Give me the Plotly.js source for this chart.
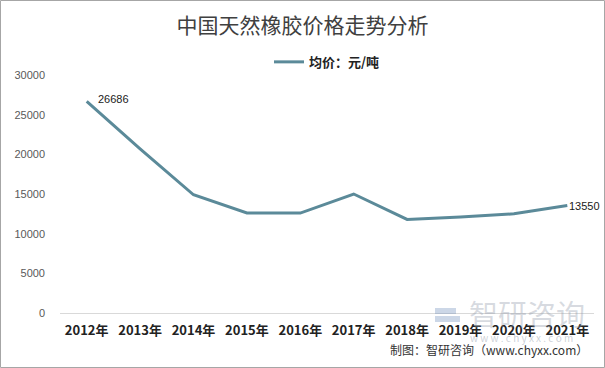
<!DOCTYPE html>
<html>
<head>
<meta charset="utf-8">
<script src="https://cdn.plot.ly/plotly-3.0.1.min.js"></script>
<style>
html,body{margin:0;padding:0;background:#fff;}
#chart{width:605px;height:368px;}
</style>
</head>
<body>
<div id="chart"></div>
<script>
var years = ["2012年","2013年","2014年","2015年","2016年","2017年","2018年","2019年","2020年","2021年"];
var prices = [26686, 20700, 14900, 12600, 12600, 15000, 11800, 12100, 12500, 13550];
var yTicks = [0, 5000, 10000, 15000, 20000, 25000, 30000];
var seriesName = "均价：元/吨";
var titleText = "中国天然橡胶价格走势分析";
var labelIdx = [0, 9];

var cjk = '"Noto Sans CJK SC", "Noto Sans", sans-serif';
var lineColor = "#5b8a99";

var annotations = labelIdx.map(function(i){
  return {x: years[i], y: prices[i], xref: "x", yref: "y", text: String(prices[i]),
    showarrow: false, xanchor: "left", yanchor: "middle", xshift: i === 0 ? 9 : 0, yshift: i === 0 ? 2 : 0,
    font: {family: "Liberation Sans, Arial, sans-serif", size: 11, color: "#1a1a1a"}};
});
annotations.push({xref: "paper", yref: "paper", x: 0.8745, y: 0.0, xanchor: "center", yanchor: "middle",
  text: "智研咨询", showarrow: false, font: {family: cjk, size: 29, color: "rgba(140,150,165,0.35)"}});
annotations.push({xref: "paper", yref: "paper", x: 0.865, y: -0.105, xanchor: "center", yanchor: "middle",
  text: "w w w . c h y x x . c o m", showarrow: false, font: {family: cjk, size: 10, color: "rgba(140,150,165,0.45)"}});
annotations.push({xref: "paper", yref: "paper", x: 0.9925, y: -0.155, xanchor: "right", yanchor: "middle",
  text: "制图：智研咨询（www.chyxx.com）", showarrow: false, font: {family: cjk, size: 12, color: "#333"}});

function px(x){ return (x - 60) / 534; }
function py(y){ return (313 - y) / 238; }

var shapes = [
  {type: "rect", xref: "paper", yref: "paper", x0: px(0.5), x1: px(604.5), y0: py(367.5), y1: py(0.5),
   line: {color: "#a6a6a6", width: 1}, fillcolor: "rgba(0,0,0,0)", layer: "below"},
  {type: "rect", xref: "paper", yref: "paper", x0: px(435), x1: px(456), y0: py(314), y1: py(308),
   line: {width: 0}, fillcolor: "rgba(110,140,185,0.35)"},
  {type: "rect", xref: "paper", yref: "paper", x0: px(435), x1: px(460), y0: py(322), y1: py(316),
   line: {width: 0}, fillcolor: "rgba(110,140,185,0.35)"}
];

var trace = {
  x: years, y: prices, type: "scatter", mode: "lines", name: seriesName,
  line: {color: lineColor, width: 3}
};

var layout = {
  width: 605, height: 368,
  margin: {l: 60, r: 11, t: 75, b: 55},
  paper_bgcolor: "#fff", plot_bgcolor: "#fff",
  title: {text: titleText, x: 0.5, xanchor: "center", y: 0.929, yanchor: "middle",
    font: {family: cjk, size: 21, color: "#404040"}},
  showlegend: true,
  legend: {orientation: "h", x: 0.5, xanchor: "center", y: 1.055, yanchor: "middle",
    font: {family: cjk, size: 13, color: "#222", weight: "bold"}, itemwidth: 30},
  xaxis: {type: "category", range: [-0.5, years.length - 0.5], showgrid: false, showline: true,
    linecolor: "#d9d9d9", linewidth: 1,
    ticks: "", zeroline: false, fixedrange: true, ticklabelstandoff: 5,
    tickfont: {family: cjk, size: 13, color: "#222", weight: "bold"}},
  yaxis: {range: [0, 30000], tickvals: yTicks, tickformat: "d", showgrid: false, showline: false, zeroline: false,
    ticks: "", ticklabelstandoff: 14, fixedrange: true,
    tickfont: {family: "Liberation Sans, Arial, sans-serif", size: 11, color: "#595959"}},
  annotations: annotations,
  shapes: shapes
};

Plotly.newPlot("chart", [trace], layout, {staticPlot: true, displayModeBar: false});
</script>
</body>
</html>
